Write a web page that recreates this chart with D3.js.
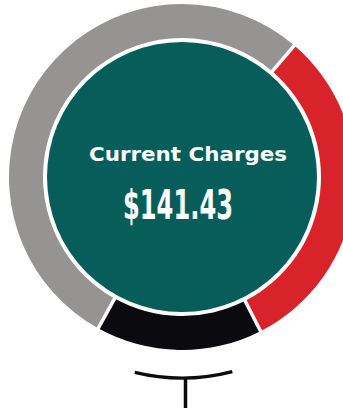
<!DOCTYPE html>
<html>
<head>
<meta charset="utf-8">
<script src="https://cdn.jsdelivr.net/npm/d3@7"></script>
<style>
  html, body { margin: 0; padding: 0; background: #ffffff; }
  svg { display: block; }
</style>
</head>
<body>
<svg id="chart" width="343" height="408"></svg>
<script>
// Charge breakdown shown as ring segments, clockwise from the top
const categories = ["Part A", "Part B", "Part C", "Part D"];
const amounts = [15.91, 44.20, 22.00, 59.32];
const segmentColors = ["#959492", "#d9232a", "#0a0a0f", "#959492"];
const title = "Current Charges";

const width = 343, height = 408;
const cx = 182, cy = 177;
const outerR = 173, innerR = 139, coreR = 135;

const svg = d3.select("#chart");
const g = svg.append("g").attr("transform", `translate(${cx},${cy})`);

const color = d3.scaleOrdinal().domain(categories).range(segmentColors);

const pie = d3.pie().sort(null).value((d, i) => amounts[i]);
const slices = pie(categories);

const arc = d3.arc().innerRadius(innerR).outerRadius(outerR);

g.selectAll("path.segment")
  .data(slices)
  .join("path")
  .attr("class", "segment")
  .attr("d", arc)
  .attr("fill", d => color(d.data));

// white separators where neighbouring segments differ in colour
const seps = slices.filter((d, i) => {
  const prev = slices[(i - 1 + slices.length) % slices.length];
  return color(prev.data) !== color(d.data);
}).map(d => d.startAngle);

g.selectAll("line.sep")
  .data(seps)
  .join("line")
  .attr("class", "sep")
  .attr("x1", a => Math.sin(a) * (innerR - 6))
  .attr("y1", a => -Math.cos(a) * (innerR - 6))
  .attr("x2", a => Math.sin(a) * (outerR + 6))
  .attr("y2", a => -Math.cos(a) * (outerR + 6))
  .attr("stroke", "#ffffff")
  .attr("stroke-width", 3.5);

// centre disc
g.append("circle")
  .attr("r", coreR)
  .attr("fill", "#075d5a");

// title and total
g.append("text")
  .attr("x", 6)
  .attr("y", -16)
  .attr("text-anchor", "middle")
  .attr("fill", "#ffffff")
  .attr("font-family", "'DejaVu Sans', Arial, sans-serif")
  .attr("font-weight", "bold")
  .attr("font-size", 20)
  .attr("textLength", 198)
  .attr("lengthAdjust", "spacingAndGlyphs")
  .text(title);

g.append("text")
  .attr("x", -4)
  .attr("y", 42)
  .attr("text-anchor", "middle")
  .attr("fill", "#ffffff")
  .attr("font-family", "'Liberation Sans Narrow', 'DejaVu Sans Condensed', sans-serif")
  .attr("font-weight", "bold")
  .attr("font-size", 40)
  .attr("textLength", 110)
  .attr("lengthAdjust", "spacingAndGlyphs")
  .text(d3.format("$,.2f")(d3.sum(amounts)));

// connector below the ring
const deg = Math.PI / 180;
const conn = d3.path();
conn.arc(0, 0, 201, Math.PI / 2 + 13.6 * deg, Math.PI / 2 - 14.5 * deg, true);
g.append("path")
  .attr("d", conn.toString())
  .attr("fill", "none")
  .attr("stroke", "#0c0c0e")
  .attr("stroke-width", 3.2);

g.append("line")
  .attr("x1", 3.5).attr("x2", 3.5)
  .attr("y1", 201).attr("y2", height - cy + 2)
  .attr("stroke", "#0c0c0e")
  .attr("stroke-width", 3.5);
</script>
</body>
</html>
